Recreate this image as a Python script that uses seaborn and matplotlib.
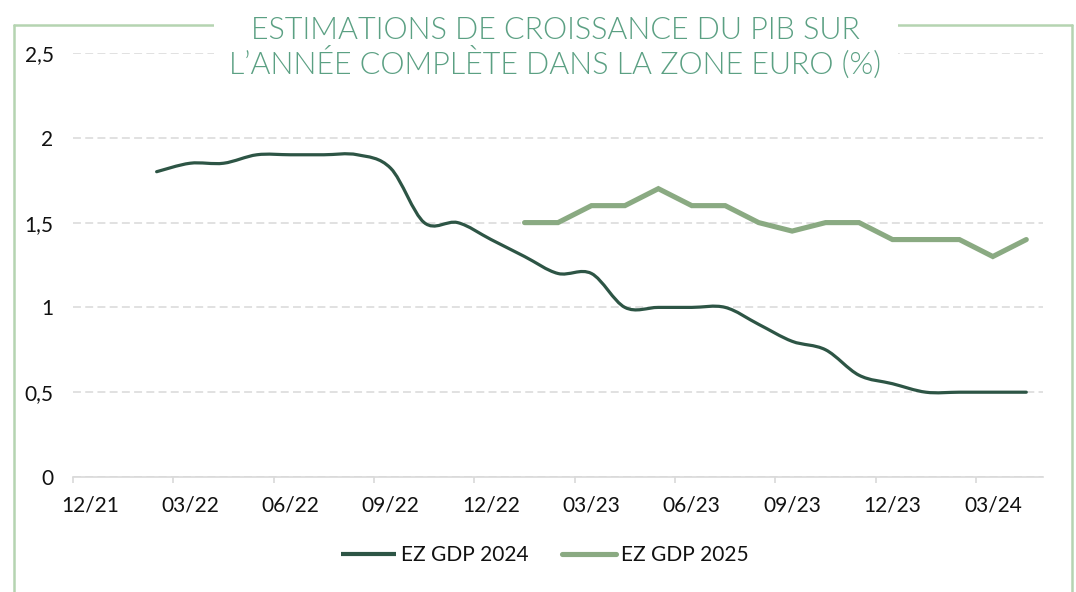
import numpy as np
import pandas as pd
import seaborn as sns
import matplotlib
matplotlib.use("Agg")
import matplotlib.pyplot as plt
from matplotlib.path import Path
from matplotlib.patches import PathPatch, Rectangle
from matplotlib.lines import Line2D

# ---------------- data ----------------
months = ["12/21", "01/22", "02/22", "03/22", "04/22", "05/22", "06/22", "07/22", "08/22",
          "09/22", "10/22", "11/22", "12/22", "01/23", "02/23", "03/23", "04/23", "05/23",
          "06/23", "07/23", "08/23", "09/23", "10/23", "11/23", "12/23", "01/24", "02/24",
          "03/24", "04/24"]
tick_labels = ["12/21", "03/22", "06/22", "09/22", "12/22", "03/23", "06/23", "09/23", "12/23", "03/24"]
y_ticks = [0, 0.5, 1, 1.5, 2, 2.5]
y_tick_labels = ["0", "0,5", "1", "1,5", "2", "2,5"]

gdp2024_months = months[2:]
gdp2024 = [1.80, 1.85, 1.85, 1.90, 1.90, 1.90, 1.90, 1.82, 1.50, 1.50, 1.40, 1.30, 1.20,
           1.20, 1.00, 1.00, 1.00, 1.00, 0.90, 0.80, 0.75, 0.60, 0.55, 0.50, 0.50, 0.50, 0.50]
gdp2025_months = months[13:]
gdp2025 = [1.50, 1.50, 1.60, 1.60, 1.70, 1.60, 1.60, 1.50, 1.45, 1.50, 1.50, 1.40, 1.40,
           1.40, 1.30, 1.40]

series_names = ["EZ GDP 2024", "EZ GDP 2025"]
colors = {"EZ GDP 2024": "#2d5545", "EZ GDP 2025": "#8aaa82"}
title_color = "#5ba083"
frame_color = "#b5d4b1"
grid_color = "#d9d9d9"

# ---------------- build frame ----------------
pos = {m: i for i, m in enumerate(months)}
df = pd.concat([
    pd.DataFrame({"pos": [pos[m] for m in gdp2024_months], "value": gdp2024, "series": series_names[0]}),
    pd.DataFrame({"pos": [pos[m] for m in gdp2025_months], "value": gdp2025, "series": series_names[1]}),
], ignore_index=True)

sns.set_theme(style="white")
plt.rcParams["font.family"] = ["Lato", "DejaVu Sans"]

W, H = 1076, 592
fig = plt.figure(figsize=(W / 100, H / 100), dpi=100)
ax = fig.add_axes([73 / W, 1 - 477 / H, (1043 - 73) / W, (477 - 53) / H])

sns.lineplot(data=df, x="pos", y="value", hue="series", palette=colors, estimator=None,
             sort=True, legend=False, ax=ax)

# dark series: smoothed (Excel-like) rendering of the same data
dark_line, green_line = ax.lines[0], ax.lines[1]
xs, ys = dark_line.get_xdata(), dark_line.get_ydata()
pts = list(zip(xs, ys))
verts, codes = [pts[0]], [Path.MOVETO]
n = len(pts)
for i in range(n - 1):
    p0 = pts[i - 1] if i > 0 else pts[i]
    p1, p2 = pts[i], pts[i + 1]
    p3 = pts[i + 2] if i + 2 < n else pts[i + 1]
    c1 = (p1[0] + (p2[0] - p0[0]) / 6, p1[1] + (p2[1] - p0[1]) / 6)
    c2 = (p2[0] - (p3[0] - p1[0]) / 6, p2[1] - (p3[1] - p1[1]) / 6)
    verts += [c1, c2, p2]
    codes += [Path.CURVE4] * 3
dark_line.set_visible(False)
ax.add_patch(PathPatch(Path(verts, codes), facecolor="none", edgecolor=colors[series_names[0]],
                       lw=2.3, capstyle="round", joinstyle="round", zorder=3))

green_line.set_linewidth(3.7)
green_line.set_solid_capstyle("round")
green_line.set_solid_joinstyle("miter")
green_line.set_zorder(3)

# axes styling
ax.set_xlim(-0.5, len(months) - 0.5)
ax.set_ylim(0, 2.5)
ax.set_xlabel("")
ax.set_ylabel("")
for s in ["top", "right", "left"]:
    ax.spines[s].set_visible(False)
ax.spines["bottom"].set_color(grid_color)
ax.spines["bottom"].set_linewidth(1.2)
ax.spines["bottom"].set_zorder(2)

ax.set_yticks(y_ticks)
ax.set_yticklabels(y_tick_labels)
ax.yaxis.grid(True, color=grid_color, lw=1.1, linestyle=(0, (5.2, 2.8)))
ax.tick_params(axis="y", length=0, pad=14, labelsize=15, labelcolor="#111111")

ax.set_xticks([pos[t] for t in tick_labels])
ax.set_xticklabels(tick_labels)
ax.set_xticks([pos[t] - 0.5 for t in tick_labels], minor=True)
ax.tick_params(axis="x", which="major", length=0, pad=13, labelsize=15, labelcolor="#111111")
ax.tick_params(axis="x", which="minor", length=4.5, width=1.2, color=grid_color, bottom=True)
ax.set_axisbelow(True)

# legend
handles = [Line2D([], [], color=colors[series_names[0]], lw=3.0, solid_capstyle="butt"),
           Line2D([], [], color=colors[series_names[1]], lw=3.7, solid_capstyle="round")]
fig.legend(handles, series_names, loc="center", bbox_to_anchor=(545 / W, 1 - 555 / H), ncol=2,
           frameon=False, fontsize=15, handlelength=2.6, handletextpad=0.25, columnspacing=1.6,
           labelcolor="#111111")

# outer frame
fx0, fy0, fx1 = 14 / W, 1 - 25 / H, 1072 / W
for xd, yd in [([fx0, fx0], [fy0, 0]), ([fx0, fx1], [fy0, fy0]), ([fx1, fx1], [fy0, 0])]:
    fig.add_artist(Line2D(xd, yd, color=frame_color, lw=1.8, transform=fig.transFigure, zorder=5))

# white background behind title (breaks frame & top gridline)
fig.add_artist(Rectangle((214 / W, 1 - 80 / H), (898 - 214) / W, 80 / H, transform=fig.transFigure,
                         facecolor="white", edgecolor="none", zorder=6))
fig.text(555 / W, 1 - 48 / H, "ESTIMATIONS DE CROISSANCE DU PIB SUR\nL\u2019ANNÉE COMPLÈTE DANS LA ZONE EURO (%)",
         ha="center", va="center", fontsize=22, color=title_color, fontweight=300,
         linespacing=1.05, zorder=7)

fig.savefig("out.png", dpi=100, facecolor="white")
